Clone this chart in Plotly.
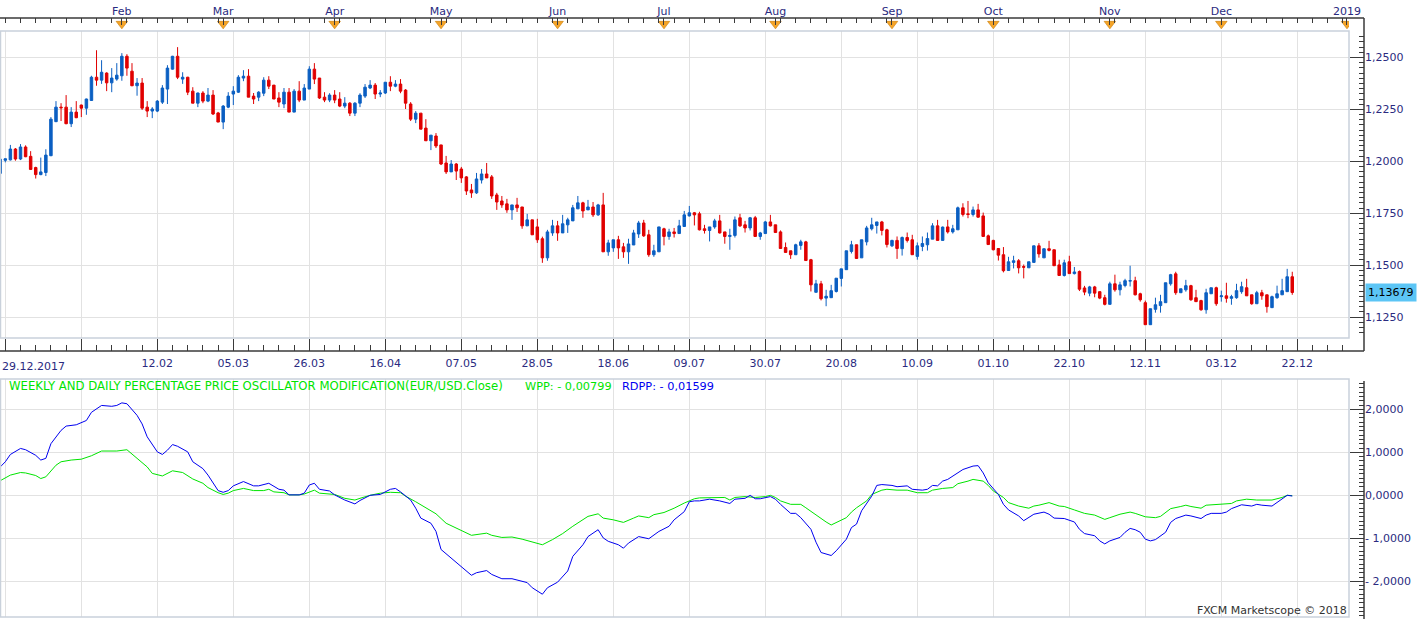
import plotly.graph_objects as go

W, H = 1422, 619

# ---------------- data (trading-day index 0 = 29.12.2017 ... 255 = 21.12.2018) ----------------
opens = [
    1.1942, 1.2005, 1.2007, 1.2059, 1.2011, 1.2069, 1.2024, 1.1970, 1.1936, 1.1946,
    1.2027, 1.2191, 1.2261, 1.2261, 1.2181, 1.2237, 1.2271, 1.2256, 1.2293, 1.2405,
    1.2391, 1.2425, 1.2378, 1.2396, 1.2412, 1.2506, 1.2434, 1.2364, 1.2377, 1.2261,
    1.2242, 1.2242, 1.2285, 1.2348, 1.2444, 1.2506, 1.2396, 1.2405, 1.2338, 1.2280,
    1.2329, 1.2290, 1.2319, 1.2233, 1.2189, 1.2261, 1.2324, 1.2333, 1.2401, 1.2410,
    1.2314, 1.2309, 1.2328, 1.2391, 1.2367, 1.2305, 1.2276, 1.2333, 1.2237, 1.2338,
    1.2295, 1.2348, 1.2444, 1.2401, 1.2309, 1.2295, 1.2319, 1.2300, 1.2266, 1.2280,
    1.2232, 1.2280, 1.2314, 1.2353, 1.2367, 1.2324, 1.2329, 1.2381, 1.2362, 1.2372,
    1.2343, 1.2276, 1.2203, 1.2232, 1.2160, 1.2099, 1.2122, 1.2079, 1.1992, 1.1949,
    1.1987, 1.1963, 1.1925, 1.1862, 1.1848, 1.1910, 1.1939, 1.1925, 1.1838, 1.1809,
    1.1795, 1.1766, 1.1790, 1.1780, 1.1689, 1.1718, 1.1684, 1.1627, 1.1535, 1.1655,
    1.1689, 1.1655, 1.1694, 1.1713, 1.1771, 1.1800, 1.1766, 1.1780, 1.1742, 1.1790,
    1.1564, 1.1583, 1.1622, 1.1588, 1.1564, 1.1597, 1.1650, 1.1703, 1.1646, 1.1550,
    1.1564, 1.1675, 1.1638, 1.1660, 1.1652, 1.1686, 1.1737, 1.1752, 1.1747, 1.1675,
    1.1667, 1.1684, 1.1713, 1.1660, 1.1638, 1.1643, 1.1728, 1.1694, 1.1679, 1.1728,
    1.1638, 1.1652, 1.1708, 1.1694, 1.1660, 1.1585, 1.1569, 1.1550, 1.1595, 1.1612,
    1.1526, 1.1369, 1.1410, 1.1341, 1.1343, 1.1373, 1.1436, 1.1478, 1.1566, 1.1598,
    1.1535, 1.1612, 1.1675, 1.1691, 1.1708, 1.1670, 1.1593, 1.1619, 1.1579, 1.1633,
    1.1622, 1.1542, 1.1590, 1.1598, 1.1625, 1.1689, 1.1619, 1.1684, 1.1660, 1.1670,
    1.1776, 1.1747, 1.1744, 1.1766, 1.1737, 1.1641, 1.1619, 1.1580, 1.1550, 1.1474,
    1.1513, 1.1521, 1.1493, 1.1487, 1.1513, 1.1593, 1.1535, 1.1579, 1.1574, 1.1501,
    1.1450, 1.1516, 1.1459, 1.1469, 1.1390, 1.1365, 1.1395, 1.1372, 1.1343, 1.1311,
    1.1410, 1.1381, 1.1402, 1.1423, 1.1425, 1.1362, 1.1319, 1.1213, 1.1287, 1.1305,
    1.1319, 1.1410, 1.1458, 1.1367, 1.1381, 1.1401, 1.1343, 1.1329, 1.1285, 1.1362,
    1.1391, 1.1348, 1.1352, 1.1340, 1.1343, 1.1372, 1.1391, 1.1357, 1.1314, 1.1367,
    1.1357, 1.1295, 1.1343, 1.1357, 1.1372, 1.1444,
]
highs = [
    1.2019, 1.2013, 1.2079, 1.2064, 1.2083, 1.2077, 1.2049, 1.1974, 1.2018, 1.2058,
    1.2213, 1.2290, 1.2280, 1.2319, 1.2261, 1.2290, 1.2273, 1.2302, 1.2412, 1.2535,
    1.2487, 1.2429, 1.2449, 1.2473, 1.2521, 1.2516, 1.2473, 1.2401, 1.2401, 1.2290,
    1.2261, 1.2295, 1.2367, 1.2463, 1.2508, 1.2550, 1.2429, 1.2407, 1.2357, 1.2331,
    1.2338, 1.2353, 1.2343, 1.2238, 1.2271, 1.2333, 1.2362, 1.2415, 1.2439, 1.2444,
    1.2329, 1.2338, 1.2405, 1.2410, 1.2367, 1.2333, 1.2353, 1.2353, 1.2348, 1.2386,
    1.2372, 1.2458, 1.2473, 1.2401, 1.2333, 1.2328, 1.2343, 1.2333, 1.2309, 1.2285,
    1.2285, 1.2328, 1.2372, 1.2391, 1.2377, 1.2343, 1.2381, 1.2410, 1.2391, 1.2396,
    1.2348, 1.2285, 1.2242, 1.2232, 1.2203, 1.2126, 1.2136, 1.2079, 1.2026, 1.2006,
    1.1992, 1.1973, 1.1929, 1.1891, 1.1944, 1.1963, 1.1992, 1.1934, 1.1848, 1.1833,
    1.1819, 1.1790, 1.1824, 1.1780, 1.1747, 1.1718, 1.1723, 1.1637, 1.1670, 1.1718,
    1.1713, 1.1742, 1.1728, 1.1790, 1.1833, 1.1805, 1.1814, 1.1804, 1.1795, 1.1848,
    1.1622, 1.1622, 1.1641, 1.1607, 1.1627, 1.1670, 1.1713, 1.1718, 1.1670, 1.1598,
    1.1684, 1.1680, 1.1675, 1.1679, 1.1718, 1.1761, 1.1785, 1.1756, 1.1757, 1.1694,
    1.1684, 1.1723, 1.1742, 1.1660, 1.1675, 1.1734, 1.1747, 1.1713, 1.1732, 1.1737,
    1.1660, 1.1713, 1.1742, 1.1694, 1.1667, 1.1609, 1.1569, 1.1603, 1.1622, 1.1617,
    1.1530, 1.1429, 1.1424, 1.1381, 1.1405, 1.1437, 1.1482, 1.1569, 1.1617, 1.1598,
    1.1622, 1.1689, 1.1728, 1.1708, 1.1713, 1.1675, 1.1622, 1.1638, 1.1638, 1.1657,
    1.1646, 1.1609, 1.1638, 1.1657, 1.1702, 1.1718, 1.1686, 1.1718, 1.1694, 1.1782,
    1.1798, 1.1809, 1.1782, 1.1795, 1.1753, 1.1647, 1.1622, 1.1580, 1.1587, 1.1540,
    1.1545, 1.1529, 1.1503, 1.1516, 1.1593, 1.1606, 1.1579, 1.1617, 1.1574, 1.1526,
    1.1526, 1.1545, 1.1491, 1.1474, 1.1400, 1.1400, 1.1400, 1.1374, 1.1357, 1.1420,
    1.1454, 1.1420, 1.1434, 1.1497, 1.1444, 1.1367, 1.1329, 1.1290, 1.1343, 1.1357,
    1.1415, 1.1458, 1.1468, 1.1386, 1.1429, 1.1405, 1.1381, 1.1333, 1.1386, 1.1391,
    1.1396, 1.1377, 1.1415, 1.1357, 1.1410, 1.1420, 1.1434, 1.1357, 1.1376, 1.1381,
    1.1357, 1.1353, 1.1401, 1.1434, 1.1482, 1.1468,
]
lows = [
    1.1940, 1.1995, 1.2004, 1.2003, 1.2006, 1.2020, 1.1958, 1.1917, 1.1933, 1.1929,
    1.2025, 1.2189, 1.2194, 1.2179, 1.2165, 1.2208, 1.2213, 1.2224, 1.2291, 1.2364,
    1.2373, 1.2338, 1.2333, 1.2388, 1.2388, 1.2412, 1.2362, 1.2316, 1.2247, 1.2213,
    1.2208, 1.2237, 1.2276, 1.2276, 1.2442, 1.2396, 1.2373, 1.2319, 1.2280, 1.2261,
    1.2280, 1.2285, 1.2223, 1.2189, 1.2155, 1.2256, 1.2271, 1.2329, 1.2386, 1.2309,
    1.2276, 1.2290, 1.2314, 1.2348, 1.2300, 1.2261, 1.2256, 1.2237, 1.2237, 1.2285,
    1.2295, 1.2348, 1.2372, 1.2300, 1.2285, 1.2285, 1.2280, 1.2261, 1.2256, 1.2218,
    1.2218, 1.2261, 1.2305, 1.2348, 1.2300, 1.2309, 1.2324, 1.2338, 1.2357, 1.2328,
    1.2252, 1.2194, 1.2184, 1.2155, 1.2099, 1.2054, 1.2064, 1.1982, 1.1939, 1.1949,
    1.1910, 1.1896, 1.1838, 1.1824, 1.1843, 1.1893, 1.1920, 1.1819, 1.1766, 1.1776,
    1.1752, 1.1718, 1.1756, 1.1675, 1.1689, 1.1646, 1.1607, 1.1511, 1.1521, 1.1641,
    1.1617, 1.1655, 1.1655, 1.1713, 1.1771, 1.1728, 1.1766, 1.1732, 1.1737, 1.1564,
    1.1545, 1.1564, 1.1530, 1.1535, 1.1506, 1.1597, 1.1631, 1.1636, 1.1540, 1.1540,
    1.1564, 1.1595, 1.1622, 1.1633, 1.1652, 1.1686, 1.1734, 1.1691, 1.1667, 1.1652,
    1.1614, 1.1675, 1.1652, 1.1603, 1.1574, 1.1633, 1.1684, 1.1657, 1.1667, 1.1638,
    1.1622, 1.1652, 1.1686, 1.1657, 1.1580, 1.1561, 1.1530, 1.1550, 1.1574, 1.1522,
    1.1373, 1.1369, 1.1330, 1.1302, 1.1343, 1.1368, 1.1397, 1.1478, 1.1556, 1.1530,
    1.1535, 1.1595, 1.1667, 1.1652, 1.1643, 1.1585, 1.1587, 1.1530, 1.1546, 1.1609,
    1.1550, 1.1526, 1.1567, 1.1570, 1.1625, 1.1619, 1.1619, 1.1652, 1.1652, 1.1670,
    1.1734, 1.1726, 1.1734, 1.1728, 1.1638, 1.1599, 1.1571, 1.1522, 1.1465, 1.1474,
    1.1484, 1.1460, 1.1436, 1.1487, 1.1513, 1.1536, 1.1535, 1.1566, 1.1497, 1.1450,
    1.1445, 1.1459, 1.1455, 1.1375, 1.1355, 1.1350, 1.1345, 1.1336, 1.1306, 1.1311,
    1.1372, 1.1354, 1.1393, 1.1397, 1.1354, 1.1324, 1.1213, 1.1213, 1.1271, 1.1271,
    1.1319, 1.1401, 1.1357, 1.1367, 1.1372, 1.1328, 1.1324, 1.1280, 1.1266, 1.1362,
    1.1304, 1.1324, 1.1319, 1.1309, 1.1338, 1.1362, 1.1352, 1.1309, 1.1314, 1.1333,
    1.1271, 1.1295, 1.1338, 1.1357, 1.1372, 1.1357,
]
closes = [
    1.2010, 1.2012, 1.2059, 1.2011, 1.2069, 1.2022, 1.1961, 1.1936, 1.1949, 1.2030,
    1.2203, 1.2261, 1.2258, 1.2181, 1.2237, 1.2210, 1.2256, 1.2300, 1.2405, 1.2391,
    1.2429, 1.2378, 1.2401, 1.2415, 1.2506, 1.2449, 1.2364, 1.2377, 1.2256, 1.2242,
    1.2252, 1.2290, 1.2353, 1.2449, 1.2506, 1.2405, 1.2405, 1.2333, 1.2280, 1.2329,
    1.2290, 1.2319, 1.2228, 1.2189, 1.2266, 1.2314, 1.2338, 1.2405, 1.2410, 1.2309,
    1.2300, 1.2333, 1.2391, 1.2362, 1.2300, 1.2285, 1.2333, 1.2237, 1.2338, 1.2295,
    1.2353, 1.2444, 1.2396, 1.2305, 1.2295, 1.2319, 1.2295, 1.2266, 1.2280, 1.2232,
    1.2280, 1.2319, 1.2357, 1.2367, 1.2324, 1.2329, 1.2381, 1.2362, 1.2372, 1.2338,
    1.2280, 1.2203, 1.2232, 1.2155, 1.2099, 1.2126, 1.2074, 1.1987, 1.1949, 1.1987,
    1.1953, 1.1920, 1.1857, 1.1848, 1.1915, 1.1939, 1.1920, 1.1833, 1.1804, 1.1790,
    1.1766, 1.1790, 1.1776, 1.1689, 1.1718, 1.1646, 1.1622, 1.1535, 1.1660, 1.1689,
    1.1655, 1.1699, 1.1718, 1.1776, 1.1800, 1.1761, 1.1780, 1.1742, 1.1790, 1.1564,
    1.1607, 1.1622, 1.1583, 1.1564, 1.1602, 1.1655, 1.1703, 1.1641, 1.1550, 1.1569,
    1.1684, 1.1638, 1.1660, 1.1652, 1.1689, 1.1742, 1.1752, 1.1742, 1.1670, 1.1667,
    1.1684, 1.1713, 1.1655, 1.1638, 1.1643, 1.1718, 1.1689, 1.1679, 1.1728, 1.1638,
    1.1655, 1.1708, 1.1689, 1.1657, 1.1580, 1.1561, 1.1550, 1.1598, 1.1612, 1.1522,
    1.1405, 1.1410, 1.1338, 1.1350, 1.1377, 1.1437, 1.1482, 1.1569, 1.1598, 1.1532,
    1.1622, 1.1679, 1.1694, 1.1708, 1.1667, 1.1599, 1.1619, 1.1580, 1.1633, 1.1619,
    1.1550, 1.1593, 1.1604, 1.1628, 1.1689, 1.1619, 1.1683, 1.1660, 1.1675, 1.1776,
    1.1744, 1.1744, 1.1766, 1.1731, 1.1638, 1.1599, 1.1574, 1.1548, 1.1473, 1.1516,
    1.1521, 1.1487, 1.1490, 1.1516, 1.1593, 1.1554, 1.1579, 1.1571, 1.1497, 1.1450,
    1.1511, 1.1459, 1.1467, 1.1384, 1.1370, 1.1395, 1.1365, 1.1341, 1.1311, 1.1410,
    1.1381, 1.1405, 1.1425, 1.1425, 1.1357, 1.1333, 1.1213, 1.1290, 1.1309, 1.1324,
    1.1415, 1.1454, 1.1367, 1.1386, 1.1401, 1.1333, 1.1324, 1.1285, 1.1367, 1.1391,
    1.1314, 1.1352, 1.1340, 1.1348, 1.1377, 1.1396, 1.1352, 1.1314, 1.1367, 1.1352,
    1.1300, 1.1348, 1.1362, 1.1377, 1.1444, 1.1368,
]
days = list(range(len(closes)))

# oscillator samples (trading-day index, value)
wpp_day = [0, 2, 4, 5, 7, 8, 9, 11, 12, 14, 16, 18, 20, 22, 23, 25, 26, 27, 29, 30,
           32, 33, 34, 36, 38, 40, 41, 43, 44, 45, 46, 48, 50, 52, 53, 54, 56, 57, 59, 60,
           62, 63, 66, 68, 70, 71, 73, 75, 77, 79, 80, 82, 84, 86, 88, 90, 93, 96, 97, 99,
           101, 103, 104, 106, 107, 109, 111, 113, 115, 116, 118, 119, 121, 123, 125, 126, 128, 129, 131, 133,
           135, 137, 138, 141, 143, 144, 145, 147, 149, 151, 152, 153, 154, 156, 158, 159, 161, 163, 164, 165,
           167, 168, 169, 171, 172, 174, 175, 177, 179, 181, 183, 184, 186, 188, 189, 191, 192, 194, 195, 196,
           198, 199, 201, 203, 204, 205, 207, 209, 210, 212, 214, 216, 218, 219, 221, 223, 224, 226, 228, 229,
           231, 233, 234, 235, 237, 238, 240, 243, 244, 246, 248, 251, 253, 254, 255]
wpp = [0.34, 0.47, 0.53, 0.52, 0.46, 0.39, 0.43, 0.70, 0.78, 0.82, 0.84, 0.92, 1.03, 1.03, 1.03, 1.06, 0.97, 0.86, 0.66, 0.51,
       0.45, 0.51, 0.57, 0.53, 0.38, 0.28, 0.18, 0.06, 0.02, 0.05, 0.11, 0.16, 0.11, 0.11, 0.14, 0.08, 0.06, 0.01, 0.01, 0.03,
       0.12, 0.05, 0.02, -0.07, -0.11, -0.07, 0.00, 0.05, 0.07, 0.06, -0.02, -0.15, -0.30, -0.43, -0.65, -0.76, -0.93, -0.88, -0.93, -0.98,
       -0.97, -1.02, -1.05, -1.11, -1.15, -1.03, -0.89, -0.72, -0.57, -0.49, -0.43, -0.53, -0.57, -0.63, -0.53, -0.48, -0.52, -0.45, -0.40, -0.30,
       -0.18, -0.08, -0.06, -0.05, -0.05, -0.11, -0.05, -0.03, -0.05, -0.03, 0.00, -0.05, -0.13, -0.21, -0.21, -0.29, -0.46, -0.62, -0.69, -0.63,
       -0.52, -0.39, -0.29, -0.13, 0.02, 0.12, 0.14, 0.12, 0.12, 0.06, 0.06, 0.12, 0.16, 0.18, 0.27, 0.33, 0.37, 0.33, 0.23, 0.10,
       -0.05, -0.17, -0.25, -0.30, -0.25, -0.23, -0.17, -0.25, -0.26, -0.34, -0.42, -0.46, -0.56, -0.52, -0.44, -0.39, -0.42, -0.50, -0.52, -0.49,
       -0.31, -0.26, -0.23, -0.26, -0.30, -0.23, -0.21, -0.19, -0.13, -0.09, -0.11, -0.11, -0.05, 0.00, -0.008]
rdpp_day = [0, 1, 2, 4, 5, 7, 8, 9, 10, 12, 13, 15, 17, 18, 20, 22, 23, 24, 25, 27,
            28, 29, 31, 32, 33, 34, 35, 37, 38, 40, 41, 42, 43, 44, 45, 46, 48, 50, 51, 53,
            54, 55, 56, 57, 59, 60, 61, 62, 63, 65, 66, 68, 70, 71, 73, 75, 77, 78, 79, 81,
            82, 83, 85, 86, 87, 89, 91, 93, 94, 96, 97, 99, 101, 103, 104, 105, 107, 108, 110, 112,
            113, 115, 116, 118, 119, 120, 122, 123, 124, 126, 127, 128, 130, 132, 133, 135, 136, 137, 138, 140,
            142, 144, 145, 147, 148, 149, 150, 152, 153, 154, 156, 157, 158, 160, 161, 162, 164, 165, 167, 168,
            169, 170, 172, 173, 174, 176, 177, 179, 180, 182, 183, 184, 185, 186, 187, 189, 190, 192, 193, 194,
            195, 197, 198, 199, 201, 202, 203, 204, 206, 207, 208, 210, 212, 213, 214, 216, 217, 218, 219, 221,
            222, 223, 224, 225, 226, 227, 228, 230, 231, 232, 234, 235, 237, 238, 239, 241, 242, 243, 245, 247,
            248, 249, 251, 252, 253, 254, 255]
rdpp = [0.66, 0.78, 0.95, 1.09, 1.06, 0.93, 0.82, 0.86, 1.20, 1.51, 1.61, 1.64, 1.74, 1.93, 2.09, 2.07, 2.09, 2.15, 2.13, 1.86,
        1.66, 1.36, 1.01, 0.95, 1.05, 1.18, 1.14, 1.01, 0.78, 0.62, 0.47, 0.28, 0.11, 0.07, 0.11, 0.22, 0.32, 0.22, 0.22, 0.28,
        0.20, 0.14, 0.12, 0.01, 0.01, 0.05, 0.24, 0.28, 0.14, 0.10, 0.01, -0.11, -0.20, -0.12, 0.00, 0.02, 0.14, 0.16, 0.08, -0.11,
        -0.30, -0.53, -0.65, -0.84, -1.26, -1.46, -1.65, -1.86, -1.80, -1.75, -1.84, -1.94, -1.94, -2.00, -2.03, -2.15, -2.30, -2.15, -2.02, -1.76,
        -1.42, -1.15, -0.96, -0.80, -0.99, -1.07, -1.15, -1.23, -1.11, -0.96, -0.99, -1.01, -0.84, -0.72, -0.57, -0.38, -0.15, -0.13, -0.13, -0.09,
        -0.13, -0.19, -0.09, -0.07, 0.00, -0.08, -0.08, -0.03, -0.09, -0.21, -0.42, -0.42, -0.52, -0.79, -1.09, -1.33, -1.40, -1.29, -1.02, -0.75,
        -0.67, -0.36, -0.02, 0.23, 0.25, 0.23, 0.20, 0.22, 0.14, 0.12, 0.14, 0.23, 0.22, 0.33, 0.37, 0.52, 0.60, 0.68, 0.69, 0.52,
        0.29, 0.02, -0.21, -0.34, -0.48, -0.59, -0.52, -0.44, -0.39, -0.44, -0.53, -0.54, -0.62, -0.79, -0.89, -0.94, -1.06, -1.13, -1.06, -0.98,
        -0.86, -0.77, -0.80, -0.86, -1.02, -1.06, -1.03, -0.86, -0.63, -0.54, -0.46, -0.48, -0.54, -0.46, -0.42, -0.42, -0.39, -0.31, -0.22, -0.25,
        -0.21, -0.23, -0.25, -0.17, -0.08, 0.00, -0.016]

# axis labels
grid_days = list(range(1, 257, 15))
date_labels = ["", "", "12.02", "05.03", "26.03", "16.04", "07.05", "28.05", "18.06",
               "09.07", "30.07", "20.08", "10.09", "01.10", "22.10", "12.11", "03.12", "22.12"]
month_days = [24, 44, 66, 87, 110, 131, 153, 176, 196, 219, 241, 265.8]
month_labels = ["Feb", "Mar", "Apr", "May", "Jun", "Jul", "Aug", "Sep", "Oct", "Nov", "Dec", "2019"]
osc_ticks = [-2, -1, 0, 1, 2]
osc_tick_labels = ["- 2,0000", "- 1,0000", "0,0000", "1,0000", "2,0000"]
last_price = 1.13679

# ---------------- styling ----------------
BLUE = "#0b5fc2"
RED = "#e00000"
GREEN = "#00e400"
OSC_BLUE = "#0000f0"
NAVY = "#2a2a80"
GRID = "#e2e2e2"
FRAME = "#c9d1db"
AXIS = "#3a3a3a"
FONT = "DejaVu Sans"

def px(x):
    return x / W

def py(y):
    return 1 - y / H

X_RIGHT = 1349
AXIS_X = 1364
XR = [-0.05, 266.2]

fig = go.Figure()

fig.add_trace(go.Candlestick(
    x=days, open=opens, high=highs, low=lows, close=closes,
    increasing=dict(line=dict(color=BLUE, width=1), fillcolor=BLUE),
    decreasing=dict(line=dict(color=RED, width=1), fillcolor=RED),
    xaxis="x", yaxis="y", hoverinfo="skip", showlegend=False,
))

fig.add_trace(go.Scatter(
    x=month_days, y=[0.55] * len(month_days), mode="markers",
    marker=dict(symbol="triangle-down", size=10, color="#f5a428",
                line=dict(color="#c97a00", width=0.6)),
    xaxis="x2", yaxis="y3", hoverinfo="skip", showlegend=False,
))

fig.add_trace(go.Scatter(
    x=wpp_day, y=wpp, mode="lines", line=dict(color=GREEN, width=1),
    xaxis="x3", yaxis="y2", hoverinfo="skip", showlegend=False,
))
fig.add_trace(go.Scatter(
    x=rdpp_day, y=rdpp, mode="lines", line=dict(color=OSC_BLUE, width=1),
    xaxis="x3", yaxis="y2", hoverinfo="skip", showlegend=False,
))

tick_font = dict(family=FONT, size=11, color=NAVY)

fig.update_layout(
    width=W, height=H, autosize=False,
    margin=dict(l=0, r=0, t=0, b=0, autoexpand=False),
    paper_bgcolor="white", plot_bgcolor="white",
    separators=",.",
    font=dict(family=FONT, size=11, color=NAVY),
    showlegend=False,
    hovermode=False,
    xaxis=dict(
        domain=[0, px(X_RIGHT)], range=XR, anchor="free", position=py(351),
        rangeslider=dict(visible=False),
        tickmode="array", tickvals=grid_days, ticktext=date_labels,
        ticks="inside", ticklen=12, tickcolor=AXIS, tickwidth=1,
        minor=dict(dtick=3, tick0=1, ticks="inside", ticklen=6, tickcolor=AXIS, showgrid=False),
        showgrid=True, gridcolor=GRID, gridwidth=1,
        showline=False, zeroline=False, tickfont=tick_font,
        ticklabelstandoff=4,
    ),
    yaxis=dict(
        domain=[py(338), py(31)], range=[1.11489, 1.26277],
        anchor="free", position=px(AXIS_X), side="right",
        tickmode="linear", tick0=1.125, dtick=0.025, tickformat=".4f",
        ticks="inside", ticklen=14, tickcolor=AXIS,
        minor=dict(dtick=0.0025, ticks="inside", ticklen=5, tickcolor=AXIS, showgrid=False),
        showgrid=True, gridcolor=GRID, showline=False, zeroline=False,
        tickfont=tick_font,
    ),
    xaxis2=dict(
        domain=[0, px(X_RIGHT)], range=XR, anchor="y3", side="top",
        tickmode="array", tickvals=month_days, ticktext=month_labels,
        ticks="inside", ticklen=7, tickcolor=AXIS,
        minor=dict(dtick=3, tick0=1, ticks="inside", ticklen=5, tickcolor=AXIS, showgrid=False),
        showgrid=False, showline=False, zeroline=False, tickfont=tick_font,
    ),
    yaxis3=dict(domain=[py(31), py(18)], range=[0, 1], anchor="x2", visible=False),
    xaxis3=dict(
        domain=[0, px(X_RIGHT)], range=XR, anchor="y2",
        tickmode="array", tickvals=grid_days, showticklabels=False, ticks="",
        showgrid=True, gridcolor=GRID, showline=False, zeroline=False,
    ),
    yaxis2=dict(
        domain=[py(617), py(379)], range=[-2.83, 2.705],
        anchor="free", position=px(AXIS_X), side="right",
        tickmode="array", tickvals=osc_ticks, ticktext=osc_tick_labels,
        ticks="inside", ticklen=14, tickcolor=AXIS,
        minor=dict(dtick=0.1, tick0=0, ticks="inside", ticklen=5, tickcolor=AXIS, showgrid=False),
        showgrid=True, gridcolor=GRID, showline=False, zeroline=False,
        tickfont=tick_font,
    ),
)

shapes = []
# plot-area frames
for (y0, y1) in [(31, 338), (379, 617)]:
    shapes.append(dict(type="rect", xref="paper", yref="paper",
                       x0=px(0.5), x1=px(X_RIGHT), y0=py(y1), y1=py(y0),
                       line=dict(color=FRAME, width=1.5), layer="above"))
# dark axis lines
for (x0, y0, x1, y1) in [(0, 18, AXIS_X, 18), (0, 351, AXIS_X, 351),
                         (AXIS_X, 18, AXIS_X, 351), (AXIS_X, 381, AXIS_X, 619)]:
    shapes.append(dict(type="line", xref="paper", yref="paper",
                       x0=px(x0), x1=px(x1), y0=py(y0), y1=py(y1),
                       line=dict(color=AXIS, width=1.5), layer="above"))
fig.update_layout(shapes=shapes)

annotations = [
    dict(text="29.12.2017", x=0, y=py(366), xref="paper", yref="paper",
         xanchor="left", yanchor="middle", showarrow=False, font=tick_font),
    dict(text=f"{last_price:.5f}".replace(".", ","), x=px(AXIS_X + 0.5), y=last_price,
         xref="paper", yref="y", xanchor="left", yanchor="middle", showarrow=False,
         font=dict(family=FONT, size=11, color="black"), bgcolor="#5cc5f5", borderpad=2),
    dict(text="WEEKLY AND DAILY PERCENTAGE PRICE OSCILLATOR MODIFICATION(EUR/USD.Close)",
         x=px(7), y=py(386), xref="paper", yref="paper", xanchor="left", yanchor="middle",
         showarrow=False, font=dict(family=FONT, size=11.7, color=GREEN)),
    dict(text="WPP: - 0,00799", x=px(523), y=py(386), xref="paper", yref="paper",
         xanchor="left", yanchor="middle", showarrow=False,
         font=dict(family=FONT, size=11.3, color=GREEN)),
    dict(text="RDPP: - 0,01599", x=px(620), y=py(386), xref="paper", yref="paper",
         xanchor="left", yanchor="middle", showarrow=False,
         font=dict(family=FONT, size=11.3, color=OSC_BLUE)),
    dict(text="FXCM Marketscope © 2018", x=px(1349), y=py(610), xref="paper", yref="paper",
         xanchor="right", yanchor="middle", showarrow=False,
         font=dict(family=FONT, size=11, color="#333333")),
]
fig.update_layout(annotations=annotations)

fig.write_html(
    "out.html",
    config={"responsive": False, "displayModeBar": False},
    post_script=("document.documentElement.style.margin='0';"
                 "document.documentElement.style.overflow='hidden';"
                 "document.body.style.margin='0';"
                 "document.body.style.overflow='hidden';"),
)
